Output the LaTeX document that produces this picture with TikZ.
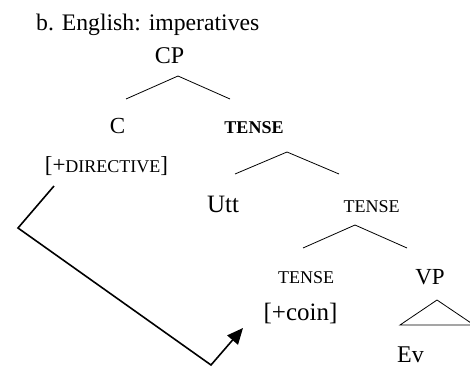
\documentclass[tikz,border=0pt]{standalone}
\usepackage{fontspec}
\setmainfont{Liberation Serif}
\usetikzlibrary{arrows.meta}

% font size helper: \fs{size}{text}
\newcommand\fs[2]{{\fontsize{#1}{#1}\selectfont #2}}

\begin{document}
\begin{tikzpicture}[x=1pt,y=-1pt,
  lbl/.style={inner sep=0pt,anchor=base},
  branch/.style={line width=0.8pt,line join=miter},
  movearrow/.style={line width=1.6pt,-{Triangle[length=16pt,width=14pt]}}]
  \useasboundingbox (0,0) rectangle (470,366);
  \clip (0,0) rectangle (470,366);

  % heading
  \node[lbl,anchor=base west] (title) at (36,31) {\fs{23.7}{b. English: imperatives}};

  % labels of the tree
  \node[lbl] (cp)    at (169.5,64)  {\fs{24}{CP}};
  \node[lbl] (c)     at (117.5,134) {\fs{23}{C}};
  \node[lbl] (tbar1) at (254,134)   {\fs{18}{\bfseries TENSE}};
  \node[lbl] (cfeat) at (106.5,172) {\fs{23}{[+\fs{18}{DIRECTIVE}]}};
  \node[lbl] (utt)   at (223,212)   {\fs{25}{Utt}};
  \node[lbl] (tbar2) at (371.5,212) {\fs{18}{TENSE}};
  \node[lbl] (thead) at (306,283)   {\fs{18}{TENSE}};
  \node[lbl] (vp)    at (430,284)   {\fs{23}{VP}};
  \node[lbl] (tfeat) at (300.5,320) {\fs{25}{[+coin]}};
  \node[lbl] (ev)    at (410.5,362) {\fs{24}{Ev}};

  % branch points
  \coordinate (cp-top) at (178,76);
  \coordinate (cp-l)   at (126,99);
  \coordinate (cp-r)   at (230,99);
  \coordinate (t1-top) at (287,152);
  \coordinate (t1-l)   at (235,174);
  \coordinate (t1-r)   at (339,174);
  \coordinate (t2-top) at (355,225);
  \coordinate (t2-l)   at (303,248);
  \coordinate (t2-r)   at (407,248);
  \coordinate (vp-top) at (437,300);
  \coordinate (vp-l)   at (400,325);
  \coordinate (vp-r)   at (474,325);

  \draw[branch] (cp-l) -- (cp-top) -- (cp-r);
  \draw[branch] (t1-l) -- (t1-top) -- (t1-r);
  \draw[branch] (t2-l) -- (t2-top) -- (t2-r);
  \draw[branch] (vp-top) -- (vp-l) -- (vp-r) -- cycle;

  % movement path from C to the lower head
  \coordinate (mv-start) at (54,186);
  \coordinate (mv-b1)    at (18,228);
  \coordinate (mv-b2)    at (211,365);
  \coordinate (mv-end)   at (243,328);
  \draw[movearrow] (mv-start) -- (mv-b1) -- (mv-b2) -- (mv-end);
\end{tikzpicture}
\end{document}
